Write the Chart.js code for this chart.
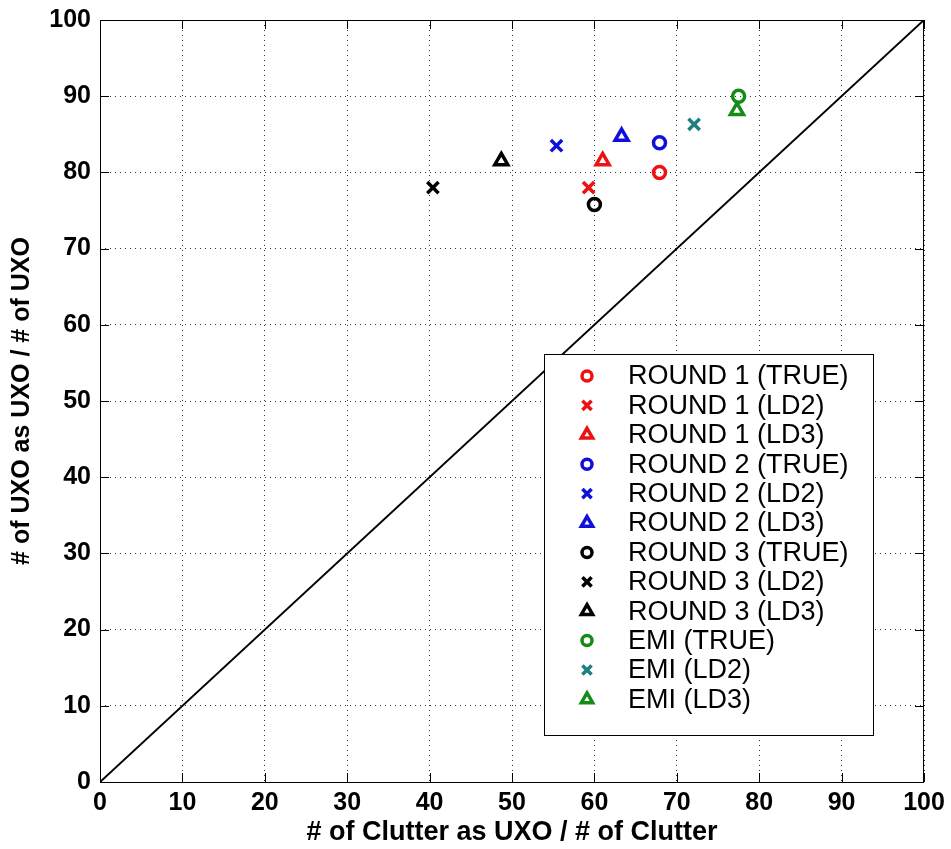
<!DOCTYPE html>
<html>
<head>
<meta charset="utf-8">
<script src="https://cdn.jsdelivr.net/npm/chart.js@4"></script>
<style>
  html, body { margin: 0; padding: 0; background: #fff; }
  #wrap { width: 951px; height: 849px; }
</style>
</head>
<body>
<div id="wrap"><canvas id="chart" width="951" height="849"></canvas></div>
<script>
// Data
const seriesLabels = [
  "ROUND 1 (TRUE)", "ROUND 1 (LD2)", "ROUND 1 (LD3)",
  "ROUND 2 (TRUE)", "ROUND 2 (LD2)", "ROUND 2 (LD3)",
  "ROUND 3 (TRUE)", "ROUND 3 (LD2)", "ROUND 3 (LD3)",
  "EMI (TRUE)", "EMI (LD2)", "EMI (LD3)"
];
const clutterAsUxo = [67.9, 59.3, 61.0, 67.9, 55.4, 63.3, 60.0, 40.4, 48.7, 77.5, 72.1, 77.3];
const uxoAsUxo     = [80.0, 78.0, 81.5, 83.9, 83.5, 84.7, 75.8, 78.0, 81.5, 90.0, 86.3, 88.1];
const diagX = [0, 100];
const diagY = [0, 100];
const axisTicks = [0, 10, 20, 30, 40, 50, 60, 70, 80, 90, 100];

// Styles
const seriesColors = [
  "#ee1111", "#ee1111", "#ee1111",
  "#1010dd", "#1010dd", "#1010dd",
  "#000000", "#000000", "#000000",
  "#168a16", "#1c7f80", "#168a16"
];
const markerStyles = ["circle", "crossRot", "triangle"];
const markerRadius = { circle: 6, crossRot: 8, triangle: 7.5 };

const FONT = "'Liberation Sans', Arial, Helvetica, sans-serif";

const datasets = seriesLabels.map((label, i) => {
  const style = markerStyles[i % 3];
  return {
    label,
    type: "scatter",
    data: [{ x: clutterAsUxo[i], y: uxoAsUxo[i] }],
    pointStyle: style,
    pointRadius: markerRadius[style],
    pointBorderWidth: 3.5,
    borderColor: seriesColors[i],
    pointBorderColor: seriesColors[i],
    pointBackgroundColor: "rgba(0,0,0,0)",
    backgroundColor: "rgba(0,0,0,0)"
  };
});

datasets.unshift({
  label: "diag",
  type: "line",
  data: diagX.map((x, i) => ({ x, y: diagY[i] })),
  borderColor: "#000",
  borderWidth: 2,
  pointRadius: 0,
  fill: false,
  hideInLegend: true
});

// box, inward ticks and inside legend
const framePlugin = {
  id: "frame",
  afterDraw(chart) {
    const { ctx, chartArea: a, scales } = chart;
    ctx.save();
    ctx.strokeStyle = "#000";
    ctx.lineWidth = 1;
    ctx.strokeRect(a.left + 0.5, a.top + 0.5, a.right - a.left - 1, a.bottom - a.top);
    ctx.beginPath();
    axisTicks.forEach(v => {
      const px = Math.round(scales.x.getPixelForValue(v)) + 0.5;
      ctx.moveTo(px, a.bottom); ctx.lineTo(px, a.bottom - 9);
      ctx.moveTo(px, a.top); ctx.lineTo(px, a.top + 9);
      const py = Math.round(scales.y.getPixelForValue(v)) + 0.5;
      ctx.moveTo(a.left, py); ctx.lineTo(a.left + 9, py);
      ctx.moveTo(a.right, py); ctx.lineTo(a.right - 9, py);
    });
    ctx.stroke();

    // legend
    const lx = 544, ly = 354, lw = 329, lh = 381;
    ctx.fillStyle = "#fff";
    ctx.fillRect(lx, ly, lw, lh);
    ctx.strokeRect(lx + 0.5, ly + 0.5, lw, lh);
    ctx.font = "27px " + FONT;
    ctx.textBaseline = "middle";
    ctx.textAlign = "left";
    const items = chart.data.datasets.filter(d => !d.hideInLegend);
    items.forEach((d, i) => {
      const y = ly + 22 + i * 29.4;
      ctx.lineWidth = 3.5;
      ctx.strokeStyle = d.pointBorderColor;
      ctx.fillStyle = "rgba(0,0,0,0)";
      Chart.helpers.drawPoint(ctx, {
        pointStyle: d.pointStyle,
        radius: d.pointStyle === "circle" ? 5 : 6.5,
        rotation: 0,
        borderWidth: 3.5
      }, lx + 43, y);
      ctx.fillStyle = "#000";
      ctx.fillText(d.label, lx + 84, y + 1);
    });
    ctx.restore();
  }
};

new Chart(document.getElementById("chart"), {
  type: "scatter",
  data: { datasets },
  options: {
    responsive: false,
    animation: false,
    layout: { padding: { top: 20, right: 27, left: 0, bottom: 0 } },
    plugins: { legend: { display: false }, tooltip: { enabled: false } },
    scales: {
      x: {
        type: "linear",
        min: 0, max: 100,
        afterBuildTicks: s => { s.ticks = axisTicks.map(v => ({ value: v })); },
        afterFit: s => { s.height = 67; s.paddingLeft = 0; s.paddingRight = 0; },
        ticks: {
          padding: 6,
          color: "#000",
          font: { family: FONT, size: 25, weight: "bold" }
        },
        grid: { color: "#333", lineWidth: 1, drawTicks: false },
        border: { display: false, dash: [1, 4] },
        title: {
          display: true,
          text: "# of Clutter as UXO / # of Clutter",
          color: "#000",
          font: { family: FONT, size: 27, weight: "bold" },
          padding: { top: 0, bottom: 0 }
        }
      },
      y: {
        type: "linear",
        min: 0, max: 100,
        afterBuildTicks: s => { s.ticks = axisTicks.map(v => ({ value: v })); },
        afterFit: s => { s.width = 100; s.paddingTop = 0; s.paddingBottom = 0; },
        ticks: {
          padding: 9,
          color: "#000",
          font: { family: FONT, size: 25, weight: "bold" }
        },
        grid: { color: "#333", lineWidth: 1, drawTicks: false },
        border: { display: false, dash: [1, 4] },
        title: {
          display: true,
          text: "# of UXO as UXO / # of UXO",
          color: "#000",
          font: { family: FONT, size: 25, weight: "bold" },
          padding: { top: 7, bottom: 0 }
        }
      }
    }
  },
  plugins: [framePlugin]
});
</script>
</body>
</html>
